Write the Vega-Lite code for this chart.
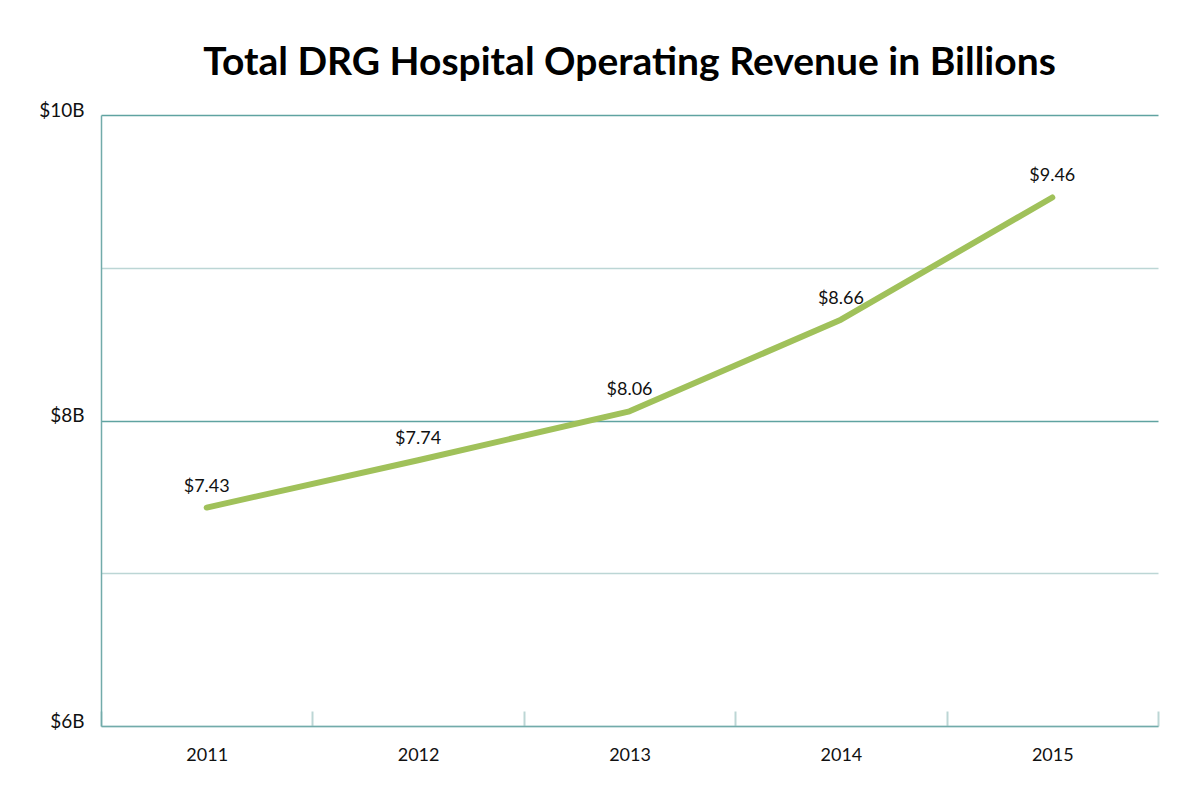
{
  "$schema": "https://vega.github.io/schema/vega-lite/v6.json",
  "autosize": "none",
  "width": 1057,
  "height": 611,
  "padding": {"left": 101, "top": 115, "right": 42, "bottom": 74},
  "background": "white",
  "title": {
    "text": "Total DRG Hospital Operating Revenue in Billions",
    "font": "Lato",
    "fontSize": 39,
    "fontWeight": "bold",
    "color": "#000000",
    "anchor": "middle",
    "frame": "group",
    "baseline": "alphabetic",
    "offset": -13
  },
  "config": {
    "view": {"stroke": null},
    "font": "Lato"
  },
  "data": {
    "values": [
      {"year": "2011", "revenue": 7.43},
      {"year": "2012", "revenue": 7.74},
      {"year": "2013", "revenue": 8.06},
      {"year": "2014", "revenue": 8.66},
      {"year": "2015", "revenue": 9.46}
    ]
  },
  "encoding": {
    "x": {
      "field": "year",
      "type": "ordinal",
      "scale": {"paddingInner": 0, "paddingOuter": 0},
      "axis": {
        "title": null,
        "labelAngle": 0,
        "labelFont": "Lato",
        "labelFontSize": 18,
        "labelColor": "#111111",
        "labelPadding": 35,
        "domainColor": "#72abaa",
        "domainWidth": 1.5,
        "tickBand": "extent",
        "tickSize": -15,
        "tickColor": "#bcd6d5",
        "tickWidth": 2,
        "grid": false
      }
    },
    "y": {
      "field": "revenue",
      "type": "quantitative",
      "scale": {"domain": [6, 10], "nice": false, "zero": false},
      "axis": {
        "title": null,
        "values": [6, 7, 8, 9, 10],
        "labelExpr": "datum.value % 2 === 0 ? '$' + datum.value + 'B' : ''",
        "labelFont": "Lato",
        "labelFontSize": 19,
        "labelColor": "#111111",
        "labelBaseline": "alphabetic",
        "labelOffset": 1,
        "labelPadding": 17,
        "ticks": false,
        "domainColor": "#72abaa",
        "domainWidth": 1.5,
        "grid": true,
        "gridWidth": 1.3,
        "gridColor": {"condition": {"test": "datum.value == 8 || datum.value == 10", "value": "#5fa3a1"}, "value": "#bcd6d5"}
      }
    }
  },
  "layer": [
    {
      "mark": {"type": "line", "color": "#a0c15a", "strokeWidth": 6, "strokeCap": "round", "strokeJoin": "round"}
    },
    {
      "mark": {"type": "text", "font": "Lato", "fontSize": 18, "color": "#111111", "baseline": "alphabetic", "dy": -16},
      "encoding": {
        "text": {"field": "revenue", "type": "quantitative", "format": "$.2f"}
      }
    }
  ]
}
